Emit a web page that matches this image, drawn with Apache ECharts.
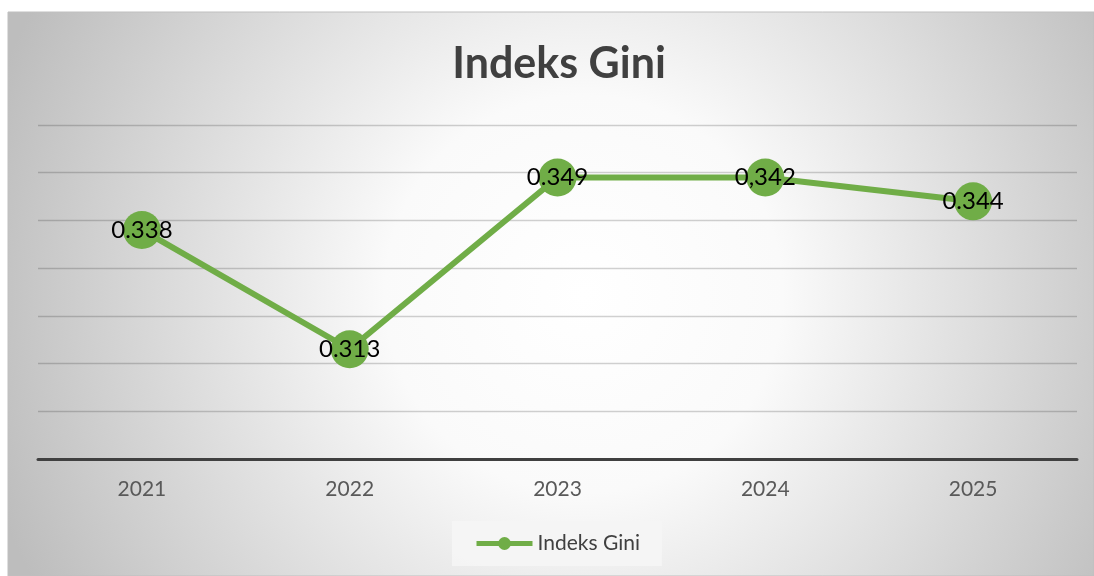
<!DOCTYPE html>
<html>
<head>
<meta charset="utf-8">
<script src="https://cdn.jsdelivr.net/npm/echarts@6/dist/echarts.min.js"></script>
<style>
html,body{margin:0;padding:0;background:#ffffff;}
#c{width:1094px;height:576px;}
</style>
</head>
<body>
<div id="c"></div>
<script>
const titleText = 'Indeks Gini';
const seriesName = 'Indeks Gini';
const categories = ['2021', '2022', '2023', '2024', '2025'];
const values = [0.338, 0.313, 0.349, 0.349, 0.344];
const labelTexts = ['0.338', '0.313', '0.349', '0,342', '0.344'];
const yMin = 0.29, yMax = 0.36, yStep = 0.01;

const chart = echarts.init(document.getElementById('c'));
chart.setOption({
  animation: false,
  graphic: [{
    type: 'rect', z: -100, silent: true,
    shape: {x: 8, y: 12, width: 1086, height: 564},
    style: {
      fill: {type: 'radial', x: 0.53, y: 0.5, r: 1.1,
        colorStops: [{offset: 0, color: '#ffffff'}, {offset: 0.32, color: '#fafafa'}, {offset: 1, color: '#bdbdbd'}]},
      stroke: '#bfbfbf', lineWidth: 1
    }
  }],
  title: {
    text: titleText, left: 554, textAlign: 'center', top: 38,
    textStyle: {fontFamily: 'Lato', fontWeight: 'bold', fontSize: 43, color: '#404040'}
  },
  legend: {
    data: [seriesName], top: 521, left: 452,
    backgroundColor: 'rgba(245,245,245,0.9)',
    padding: [12, 22, 12, 22],
    itemWidth: 56, itemHeight: 16,
    lineStyle: {width: 5},
    textStyle: {fontFamily: 'Lato', fontSize: 21, color: '#404040'}
  },
  grid: {left: 38, right: 17, top: 125, bottom: 117, containLabel: false},
  xAxis: {
    type: 'category', data: categories, boundaryGap: true,
    axisLine: {lineStyle: {color: '#404040', width: 3}},
    axisTick: {show: false},
    axisLabel: {margin: 20, fontFamily: 'Lato', fontSize: 21, color: '#595959'}
  },
  yAxis: {
    type: 'value', min: yMin, max: yMax, interval: yStep,
    axisLabel: {show: false}, axisLine: {show: false}, axisTick: {show: false},
    splitLine: {lineStyle: {color: 'rgba(0,0,0,0.18)', width: 1.3}}
  },
  series: [{
    name: seriesName, type: 'line', data: values,
    symbol: 'circle', symbolSize: 38,
    lineStyle: {color: '#70AD47', width: 6},
    itemStyle: {color: '#70AD47'},
    label: {
      show: true, position: 'inside',
      formatter: p => labelTexts[p.dataIndex],
      fontFamily: 'Lato', fontSize: 24, color: '#000000'
    }
  }]
});
</script>
</body>
</html>
